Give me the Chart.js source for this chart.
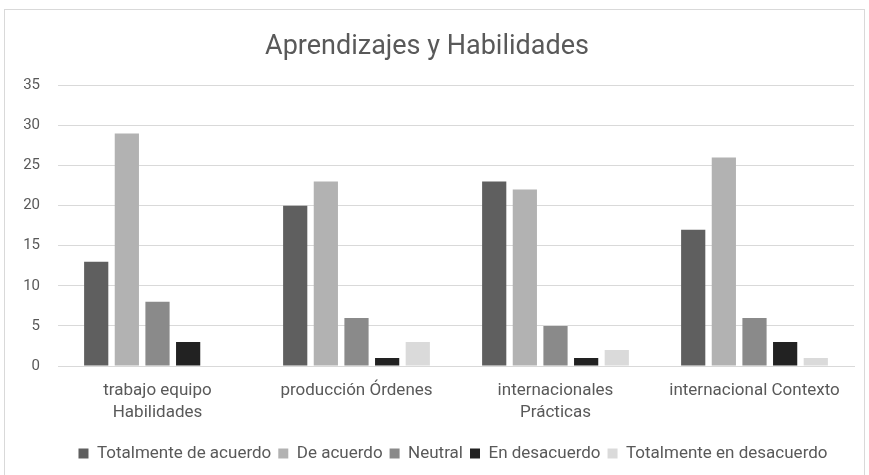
<!DOCTYPE html>
<html>
<head>
<meta charset="utf-8">
<script src="https://cdn.jsdelivr.net/npm/chart.js@4.4.1/dist/chart.umd.min.js"></script>
<style>
  html, body { margin: 0; padding: 0; background: #ffffff; }
  #wrap { position: relative; width: 869px; height: 475px; }
  #frame { position: absolute; left: 4px; top: 9px; width: 861px; height: 480px; border: 1px solid #d9d9d9; box-sizing: border-box; }
  canvas { position: absolute; left: 0; top: 0; }
</style>
</head>
<body>
<div id="wrap">
  <div id="frame"></div>
  <canvas id="aprendizajesBarChart" width="869" height="475"></canvas>
</div>
<script>
// Data
const categories = [
    ['trabajo equipo', 'Habilidades'],
    'producción Órdenes',
    ['internacionales', 'Prácticas'],
    'internacional Contexto'
];
const totalmenteDeAcuerdo = [13, 20, 23, 17];
const deAcuerdo = [29, 23, 22, 26];
const neutral = [8, 6, 5, 6];
const enDesacuerdo = [3, 1, 1, 3];
const totalmenteEnDesacuerdo = [0, 3, 2, 1];
const yTicks = [0, 5, 10, 15, 20, 25, 30, 35];

const textColor = '#595959';
const gridColor = '#d9d9d9';
const fontFamily = 'Roboto, "Liberation Sans", sans-serif';

function makeSet(label, data, color) {
    return {
        label: label,
        data: data,
        backgroundColor: color,
        borderWidth: 0,
        categoryPercentage: 0.77,
        barPercentage: 0.79
    };
}

// nudge the legend so it is centred on the plot like the original
const legendShift = {
    id: 'legendShift',
    afterLayout(chart) {
        chart.legend.left += 26;
        chart.legend.right += 26;
    }
};

const ctxChart = document.getElementById('aprendizajesBarChart');
const myChart = new Chart(ctxChart, {
    type: 'bar',
    data: {
        labels: categories,
        datasets: [
            makeSet('Totalmente de acuerdo', totalmenteDeAcuerdo, '#5f5f5f'),
            makeSet('De acuerdo', deAcuerdo, '#b2b2b2'),
            makeSet('Neutral', neutral, '#8a8a8a'),
            makeSet('En desacuerdo', enDesacuerdo, '#222222'),
            makeSet('Totalmente en desacuerdo', totalmenteEnDesacuerdo, '#dadada')
        ]
    },
    plugins: [legendShift],
    options: {
        responsive: false,
        animation: false,
        layout: {
            padding: { left: 0, right: 15, top: 0, bottom: 3 }
        },
        scales: {
            x: {
                grid: { display: false },
                border: { display: true, color: gridColor, width: 1 },
                ticks: {
                    color: textColor,
                    font: { family: fontFamily, size: 17, lineHeight: 1.3 },
                    padding: 6,
                    maxRotation: 0,
                    autoSkip: false
                },
                afterFit: function(scale) { scale.height = 72; }
            },
            y: {
                min: 0,
                max: 35,
                afterBuildTicks: function(scale) {
                    scale.ticks = yTicks.map(v => ({ value: v }));
                },
                grid: { color: gridColor, lineWidth: 1, drawTicks: false },
                border: { display: false },
                ticks: {
                    color: textColor,
                    font: { family: fontFamily, size: 15 },
                    padding: 18
                },
                afterFit: function(scale) { scale.width = 58; }
            }
        },
        plugins: {
            title: {
                display: true,
                text: 'Aprendizajes y Habilidades',
                color: textColor,
                font: { family: fontFamily, size: 27, weight: 'normal' },
                padding: { top: 31, bottom: 22 }
            },
            legend: {
                position: 'bottom',
                labels: {
                    color: textColor,
                    font: { family: fontFamily, size: 17 },
                    boxWidth: 10,
                    boxHeight: 10,
                    padding: 7
                }
            },
            tooltip: { enabled: false }
        }
    }
});
</script>
</body>
</html>
